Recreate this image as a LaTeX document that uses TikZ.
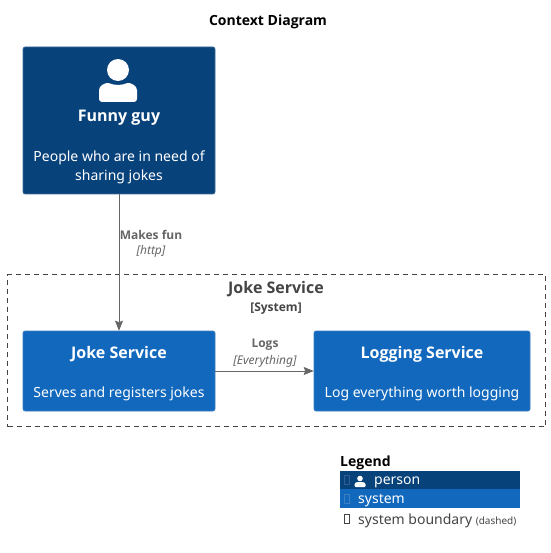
\documentclass[tikz,border=0pt]{standalone}
\usepackage{fontspec}
\setmainfont{Noto Sans}[BoldFont={Open Sans Bold}]
\usetikzlibrary{arrows.meta}
\definecolor{personblue}{HTML}{08427B}
\definecolor{personedge}{HTML}{3C6A96}
\definecolor{systemblue}{HTML}{1168BD}
\definecolor{systemedge}{HTML}{3C7FC0}
\definecolor{relgray}{HTML}{666666}
\definecolor{boundgray}{HTML}{444444}
\tikzset{
    box/.style={draw, rounded corners=2pt, line width=0.6pt, inner sep=0pt, anchor=center},
    personbox/.style={box, draw=personedge, fill=personblue, minimum width=192pt, minimum height=147pt},
    systembox/.style={box, draw=systemedge, fill=systemblue, minimum height=80pt},
    boxtitle/.style={text=white, font=\fontsize{16}{16}\selectfont\bfseries, inner sep=0pt},
    boxtext/.style={text=white, font=\fontsize{14}{14}\selectfont, inner sep=0pt},
    rel/.style={draw=relgray, line width=0.7pt, -{Stealth[length=10pt,width=8pt,inset=1.5pt]}, shorten >=0pt},
    reltitle/.style={text=relgray, font=\fontsize{12}{12}\selectfont\bfseries, inner sep=0pt},
    reltech/.style={text=relgray, font=\fontsize{12}{12}\selectfont\itshape, inner sep=0pt},
    legendtext/.style={font=\fontsize{14}{14}\selectfont, inner sep=0pt, anchor=west},
    tofu/.style={draw, line width=0.4pt, minimum width=5pt, minimum height=9pt, inner sep=0pt}
}
\begin{document}
\begin{tikzpicture}[x=1pt,y=-1pt]
    \useasboundingbox (0,0) rectangle (550,553);
    \node[font=\fontsize{14}{14}\selectfont\bfseries, inner sep=0pt] (title) at (268,22) {Context Diagram};
    % boundary
    \node[draw=boundgray, dash pattern=on 5pt off 4pt, line width=0.7pt, minimum width=538pt, minimum height=152pt, inner sep=0pt] (bound) at (276.5,350.5) {};
    \node[text=boundgray, font=\fontsize{16}{16}\selectfont\bfseries, inner sep=0pt] (boundname) at (276,289) {Joke Service};
    \node[text=boundgray, font=\fontsize{12}{12}\selectfont\bfseries, inner sep=0pt] (boundtype) at (276,308.5) {[System]};
    % boxes
    \node[personbox] (guy) at (119,120.5) {};
    \node[systembox, minimum width=192pt] (joke) at (119,371) {};
    \node[systembox, minimum width=216pt] (logging) at (422,371) {};
    % person icon
    \fill[white] (118,70) circle (11);
    \fill[white, rounded corners=3pt] (99,102) -- (99,93) .. controls (99,86) and (105,83) .. (110,83) .. controls (114,85) and (122,85) .. (126,83) .. controls (131,83) and (137,86) .. (137,93) -- (137,102) -- cycle;
    % box texts
    \node[boxtitle] (guyname) at (119,118) {Funny guy};
    \node[boxtext] (guydesc1) at (119,158) {People who are in need of};
    \node[boxtext] (guydesc2) at (119,177) {sharing jokes};
    \node[boxtitle] (jokename) at (119,354) {Joke Service};
    \node[boxtext] (jokedesc) at (119,394) {Serves and registers jokes};
    \node[boxtitle] (logname) at (422,354) {Logging Service};
    \node[boxtext] (logdesc) at (422,394) {Log everything worth logging};
    % relations
    \draw[rel] (guy) -- (joke);
    \draw[rel] (joke) -- (logging);
    \node[reltitle] (fun) at (151,234.5) {Makes fun};
    \node[reltech] (http) at (151,251) {[http]};
    \node[reltitle] (logs) at (265,345) {Logs};
    \node[reltech] (everything) at (265,361.5) {[Everything]};
    % legend
    \node[font=\fontsize{14}{14}\selectfont\bfseries, inner sep=0pt, anchor=west] (legend) at (340,462.5) {Legend};
    \fill[personblue] (339.5,470.5) rectangle (520,489);
    \fill[systemblue] (339.5,489) rectangle (520,508);
    \fill[white] (360,478.5) circle (2.8);
    \fill[white, rounded corners=1pt] (354.5,487) -- (354.5,483.5) -- (356.5,482) -- (363.5,482) -- (365.5,483.5) -- (365.5,487) -- cycle;
    \node[tofu, draw=personblue!85!white] (tofua) at (347,480) {};
    \node[tofu, draw=systemedge] (tofub) at (347,499) {};
    \node[tofu, draw=boundgray] (tofuc) at (347,519) {};
    \node[legendtext, text=white] (lperson) at (374,482) {person};
    \node[legendtext, text=white] (lsystem) at (358,501) {system};
    \node[legendtext, text=boundgray, anchor=base west] (lbound) at (358,524) {system boundary \fontsize{10}{10}\selectfont(dashed)};
\end{tikzpicture}
\end{document}
